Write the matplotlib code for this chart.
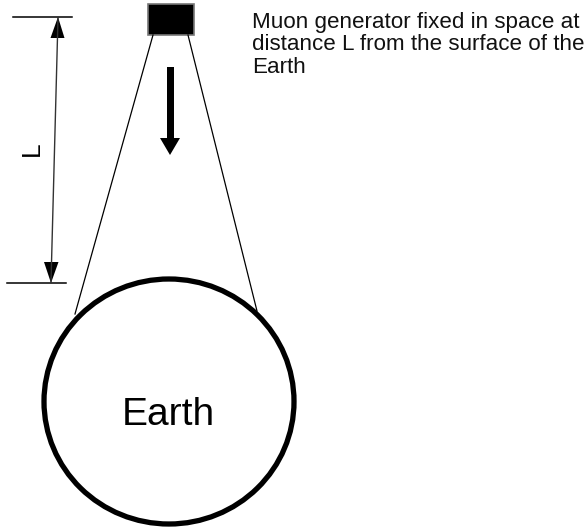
import matplotlib
matplotlib.use("Agg")
import matplotlib.pyplot as plt
from matplotlib.patches import Ellipse, Rectangle, Polygon

# ---- text content ----
caption_lines = ["Muon generator fixed in space at",
                 "distance L from the surface of the",
                 "Earth"]
earth_label = "Earth"
distance_label = "L"

plt.rcParams['font.family'] = ['Liberation Sans', 'DejaVu Sans']

W, H = 586, 527
fig = plt.figure(figsize=(W / 100, H / 100), dpi=100)
ax = fig.add_axes([0, 0, 1, 1])
ax.set_xlim(0, W)
ax.set_ylim(H, 0)
ax.axis("off")

# Generator box
ax.add_patch(Rectangle((148, 4), 46, 31, facecolor="black", edgecolor="#777777", lw=1.2))

# Cone lines
ax.plot([153, 75], [35, 314], color="black", lw=0.9)
ax.plot([188, 257], [35, 311], color="black", lw=0.9)

# Earth
ax.add_patch(Ellipse((169, 401.5), 250, 245, facecolor="white", edgecolor="black", lw=3.8, zorder=3))
ax.text(122, 425, earth_label, fontsize=28, ha="left", va="baseline", zorder=4)

# Down arrow
ax.add_patch(Rectangle((166.5, 67), 7, 73, facecolor="black", edgecolor="none"))
ax.add_patch(Polygon([[160, 138], [180, 138], [170, 155]], closed=True, facecolor="black", edgecolor="none"))

# Dimension lines
ax.plot([13, 72], [17, 17], color="black", lw=1.1)
ax.plot([7, 66], [283, 283], color="black", lw=1.1)
ax.plot([58, 51], [18, 282], color="#333333", lw=1.0)
ax.add_patch(Polygon([[58, 17], [50.5, 38], [64.5, 38]], closed=True, facecolor="black", edgecolor="none"))
ax.add_patch(Polygon([[51, 283], [44, 262], [58.5, 262]], closed=True, facecolor="black", edgecolor="none"))
ax.text(32, 148.5, distance_label, fontsize=19, rotation=90, ha="center", va="center")

# Caption
for i, line in enumerate(caption_lines):
    ax.text(252, 28 + 22.5 * i, line, fontsize=16.1, ha="left", va="baseline", color="#111111")

fig.savefig("out.png", dpi=100)
